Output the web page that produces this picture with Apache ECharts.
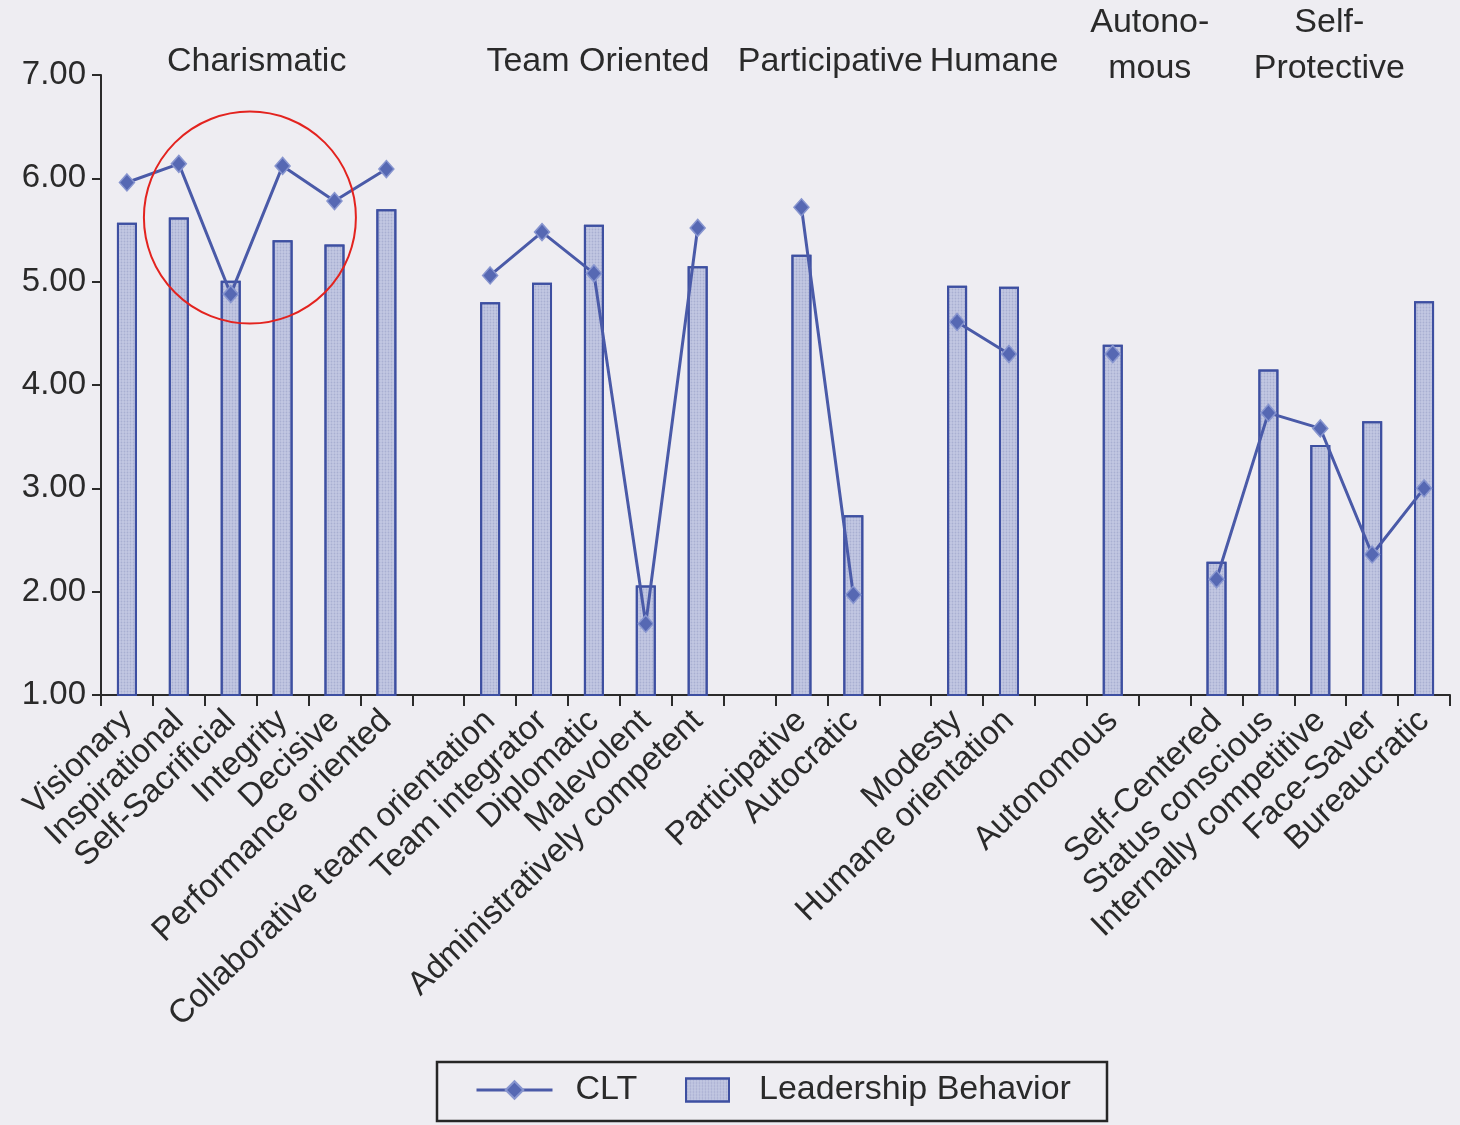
<!DOCTYPE html>
<html>
<head>
<meta charset="utf-8">
<script src="https://cdn.jsdelivr.net/npm/echarts@6/dist/echarts.min.js"></script>
<style>
  html, body { margin: 0; padding: 0; background: #eeedf2; }
  #chart { width: 1460px; height: 1125px; }
</style>
</head>
<body>
<div id="chart"></div>
<script>
// one slot per dimension, 'gap' slots keep the groups apart
const categories = [
  'Visionary', 'Inspirational', 'Self-Sacrificial', 'Integrity', 'Decisive', 'Performance oriented',
  'gap1',
  'Collaborative team orientation', 'Team integrator', 'Diplomatic', 'Malevolent', 'Administratively competent',
  'gap2',
  'Participative', 'Autocratic',
  'gap3',
  'Modesty', 'Humane orientation',
  'gap4',
  'Autonomous',
  'gap5',
  'Self-Centered', 'Status conscious', 'Internally competitive', 'Face-Saver', 'Bureaucratic',
]

const leadershipBehavior = [
  5.57, 5.62, 5.01, 5.40, 5.36, 5.70,
  '-',
  4.80, 4.99, 5.55, 2.06, 5.15,
  '-',
  5.26, 2.74,
  '-',
  4.96, 4.95,
  '-',
  4.39,
  '-',
  2.29, 4.15, 3.42, 3.65, 4.81,
]

const clt = [
  5.96, 6.14, 4.88, 6.12, 5.78, 6.09,
  '-',
  5.06, 5.48, 5.08, 1.69, 5.52,
  '-',
  5.72, 1.97,
  '-',
  4.61, 4.30,
  '-',
  4.30,
  '-',
  2.12, 3.73, 3.58, 2.36, 3.00,
]

const groupNames = ['Charismatic', 'Team Oriented', 'Participative', 'Humane', 'Autono-\nmous', 'Self-\nProtective']
const groupFirst = [0, 7, 13, 16, 19, 21]
const groupLast = [5, 11, 14, 17, 19, 25]

const yTicks = [1, 2, 3, 4, 5, 6, 7]

// header nudges, in px
const headerDx = [0, 4, 3, 11, 37, 9]

const FONT = '"Liberation Sans", Arial, sans-serif'
const TEXT = '#2a2a2a'
const BLUE = '#4a5aa8'
const BAR_EDGE = '#3d4fa1'
const BAR_FILL = '#c3c8e3'

const chart = echarts.init(document.getElementById('chart'), null, { renderer: 'canvas' })

const option = {
  backgroundColor: '#eeedf2',
  animation: false,
  textStyle: { fontFamily: FONT, color: TEXT },
  grid: { left: 101, right: 10, top: 75, bottom: 430, containLabel: false },
  legend: [
    {
      data: ['CLT'],
      left: 475, top: 1070, padding: 0,
      itemWidth: 76, itemHeight: 22,
      lineStyle: { width: 3 },
      textStyle: { fontFamily: FONT, fontSize: 34, color: TEXT, lineHeight: 40, padding: [0, 0, 0, 18] },
    },
    {
      data: [{ name: 'Leadership Behavior', icon: 'rect' }],
      left: 685, top: 1070, padding: 0,
      itemWidth: 43, itemHeight: 23,
      textStyle: { fontFamily: FONT, fontSize: 34, color: TEXT, lineHeight: 40, padding: [0, 0, 0, 25] },
    },
  ],
  xAxis: {
    type: 'category',
    data: categories,
    boundaryGap: true,
    axisLine: { lineStyle: { color: '#2b2b2b', width: 2 } },
    axisTick: { show: true, length: 11, lineStyle: { color: '#2b2b2b', width: 2 }, interval: 0 },
    axisLabel: {
      interval: 0, rotate: 44, margin: 21,
      fontFamily: FONT, fontSize: 33, color: TEXT,
      formatter: (v) => (v.startsWith('gap') ? '' : v),
    },
    splitLine: { show: false },
  },
  yAxis: {
    type: 'value',
    min: yTicks[0], max: yTicks[yTicks.length - 1], interval: 1,
    axisLine: { show: true, lineStyle: { color: '#2b2b2b', width: 2 } },
    axisTick: { show: true, length: 9, lineStyle: { color: '#2b2b2b', width: 2 } },
    axisLabel: { fontFamily: FONT, fontSize: 33, color: TEXT, margin: 15, formatter: (v) => v.toFixed(2) },
    splitLine: { show: false },
  },
  series: [
    {
      name: 'Leadership Behavior',
      type: 'bar',
      data: leadershipBehavior,
      barWidth: 20,
      itemStyle: {
        color: BAR_FILL, borderColor: BAR_EDGE, borderWidth: 2,
        decal: { symbol: 'circle', symbolSize: 0.6, color: 'rgba(120,130,175,0.35)', dashArrayX: [3, 0], dashArrayY: [3, 0] },
      },
      z: 1,
    },
    {
      name: 'CLT',
      type: 'line',
      data: clt,
      connectNulls: false,
      symbol: 'diamond',
      symbolSize: [15, 17],
      lineStyle: { color: BLUE, width: 3 },
      itemStyle: { color: '#5668b3', borderColor: '#8795cf', borderWidth: 1.5 },
      z: 3,
    },
  ],
}

chart.setOption(option)

// group headers and the hand-drawn circle, placed from the axis scale
const px = (i) => chart.convertToPixel({ xAxisIndex: 0 }, i)
const py = (v) => chart.convertToPixel({ yAxisIndex: 0 }, v)

const headers = groupNames.map((name, g) => {
  const cx = (px(groupFirst[g]) + px(groupLast[g])) / 2 + headerDx[g]
  const twoLine = name.includes('\n')
  return {
    type: 'text',
    x: cx,
    y: twoLine ? 46 : 62,
    style: {
      text: name, fill: '#2a2a2a', font: '34px ' + FONT,
      align: 'center', verticalAlign: 'middle', lineHeight: 46,
    },
    z: 10,
  }
})

const circleX = px(2) + 0.37 * (px(3) - px(2))
const circleY = py(5.62)

chart.setOption({
  graphic: [
    ...headers,
    {
      type: 'circle',
      shape: { cx: circleX, cy: circleY, r: 106 },
      style: { fill: 'none', stroke: '#e3231f', lineWidth: 2 },
      z: 20,
    },
    {
      type: 'rect',
      shape: { x: 437, y: 1062, width: 670, height: 59 },
      style: { fill: 'none', stroke: '#262626', lineWidth: 2.5 },
      z: 5,
    },
  ],
})

window.addEventListener('resize', () => chart.resize())
</script>
</body>
</html>
